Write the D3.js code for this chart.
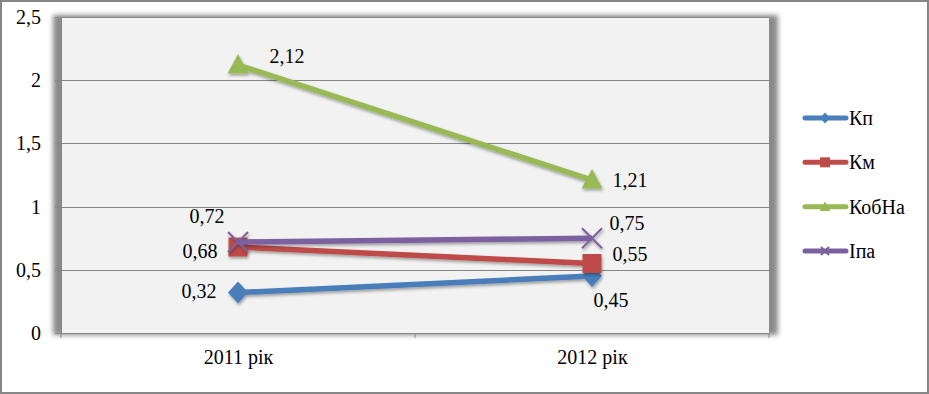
<!DOCTYPE html>
<html>
<head>
<meta charset="utf-8">
<script src="https://d3js.org/d3.v7.min.js"></script>
<style>
  body { margin: 0; background: #fff; }
</style>
</head>
<body>
<svg width="929" height="394"></svg>
<script>
var categories = ["2011 рік", "2012 рік"];
var seriesNames = ["Кп", "Км", "КобНа", "Іпа"];
var kpValues = [0.32, 0.45];
var kmValues = [0.68, 0.55];
var kobnaValues = [2.12, 1.21];
var ipaValues = [0.72, 0.75];
var yTicks = [0, 0.5, 1, 1.5, 2, 2.5];

// label placement (offsets from each point), layout only
var labelOffsets = [
  [[-39, -2], [19, 24]],
  [[-38, 4], [38, -9]],
  [[49, -9], [38, 0]],
  [[-31, -26], [35, -15]]
];
var colors = ["#4A7EBB", "#BE4B48", "#98B954", "#7D60A0"];
var markers = ["diamond", "square", "triangle", "x"];
var FONT = "'Liberation Serif', 'Times New Roman', serif";

var series = seriesNames.map(function(name, i) {
  return { name: name, values: [kpValues, kmValues, kobnaValues, ipaValues][i],
           color: colors[i], marker: markers[i], offs: labelOffsets[i] };
});

var svg = d3.select("svg");
var plotLeft = 61, plotRight = 769, plotTop = 17, plotBottom = 333;

var x = d3.scalePoint().domain(categories).range([plotLeft, plotRight]).padding(0.5);
var y = d3.scaleLinear().domain([0, 2.5]).range([plotBottom, plotTop]);
var fmt = d3.formatLocale({ decimal: ",", thousands: " ", grouping: [3], currency: ["", ""] }).format("");

var defs = svg.append("defs");
defs.append("filter").attr("id", "blur").attr("x", "-10%").attr("y", "-10%").attr("width", "120%").attr("height", "120%")
  .append("feGaussianBlur").attr("stdDeviation", 2.5);
defs.append("filter").attr("id", "shadow").attr("x", "-20%").attr("y", "-20%").attr("width", "140%").attr("height", "160%")
  .append("feDropShadow").attr("dx", 1).attr("dy", 2).attr("stdDeviation", 1.5)
  .attr("flood-color", "#000").attr("flood-opacity", 0.35);

// outer border
svg.append("rect").attr("x", 1).attr("y", 1).attr("width", 927).attr("height", 392)
  .attr("fill", "#fff").attr("stroke", "#868686").attr("stroke-width", 2);

// plot area with shadow
svg.append("rect").attr("x", plotLeft - 8).attr("y", plotTop - 2).attr("width", plotRight - plotLeft + 17).attr("height", plotBottom - plotTop + 4)
  .attr("fill", "#8a8a8a").attr("filter", "url(#blur)");
svg.append("rect").attr("x", plotLeft).attr("y", plotTop).attr("width", plotRight - plotLeft).attr("height", plotBottom - plotTop)
  .attr("fill", "#F2F2F2");

// gridlines
svg.append("g").selectAll("line").data(yTicks.filter(function(d) { return d > 0; })).enter().append("line")
  .attr("x1", plotLeft).attr("x2", plotRight).attr("y1", function(d) { return Math.round(y(d)) + 0.5; })
  .attr("y2", function(d) { return Math.round(y(d)) + 0.5; })
  .attr("stroke", "#868686").attr("stroke-width", 1);

// y axis
var yAxis = svg.append("g").attr("transform", "translate(" + plotLeft + ",0)")
  .call(d3.axisLeft(y).tickValues(yTicks).tickFormat(fmt).tickSize(6).tickPadding(14));
yAxis.select(".domain").attr("stroke", "#868686");
yAxis.selectAll(".tick line").attr("stroke", "#868686");
yAxis.selectAll("text").style("font-size", "20px").style("font-family", FONT).attr("fill", "#000");

// x axis
var xAxis = svg.append("g").attr("transform", "translate(0," + plotBottom + ")")
  .call(d3.axisBottom(x).tickSize(0).tickPadding(17));
xAxis.select(".domain").attr("stroke", "#868686");
xAxis.selectAll("text").style("font-size", "20px").style("font-family", FONT).attr("fill", "#000");
svg.append("g").selectAll("line").data([plotLeft, (plotLeft + plotRight) / 2, plotRight]).enter().append("line")
  .attr("x1", function(d) { return d; }).attr("x2", function(d) { return d; })
  .attr("y1", plotBottom).attr("y2", plotBottom + 5).attr("stroke", "#868686");

function markerPath(type, s) {
  if (type === "diamond") return "M0," + (-1.1 * s) + "L" + s + ",0L0," + (1.1 * s) + "L" + (-s) + ",0Z";
  if (type === "square") return "M" + (-s) + "," + (-s) + "H" + s + "V" + s + "H" + (-s) + "Z";
  if (type === "triangle") return "M0," + (-1.1 * s) + "L" + (1.05 * s) + "," + (0.85 * s) + "H" + (-1.05 * s) + "Z";
  return "M" + (-s) + "," + (-s) + "L" + s + "," + s + "M" + s + "," + (-s) + "L" + (-s) + "," + s;
}

function drawMarker(g, d, s) {
  var p = g.append("path").attr("d", markerPath(d.marker, s));
  if (d.marker === "x") p.attr("fill", "none").attr("stroke", d.color).attr("stroke-width", 2);
  else p.attr("fill", d.color);
}

var line = d3.line().x(function(d, i) { return x(categories[i]); }).y(function(d) { return y(d); });

series.forEach(function(s) {
  var g = svg.append("g").attr("filter", "url(#shadow)");
  g.append("path").datum(s.values).attr("d", line)
    .attr("fill", "none").attr("stroke", s.color).attr("stroke-width", 5.5);
  s.values.forEach(function(v, i) {
    var m = g.append("g").attr("transform", "translate(" + x(categories[i]) + "," + y(v) + ")");
    drawMarker(m, s, s.marker === "square" ? 9.5 : 10);
  });
});

// data labels
series.forEach(function(s) {
  svg.append("g").selectAll("text").data(s.values).enter().append("text")
    .attr("x", function(d, i) { return x(categories[i]) + s.offs[i][0]; })
    .attr("y", function(d, i) { return y(d) + s.offs[i][1]; })
    .attr("dy", "0.35em").attr("text-anchor", "middle")
    .style("font-size", "20px").style("font-family", FONT)
    .text(function(d) { return fmt(d); });
});

// legend
var legend = svg.append("g").attr("transform", "translate(803,0)");
var legendY = d3.scalePoint().domain(seriesNames).range([118, 251]);
series.forEach(function(s) {
  var g = legend.append("g").attr("transform", "translate(0," + legendY(s.name) + ")");
  g.append("line").attr("x1", 2).attr("x2", 43).attr("stroke", s.color).attr("stroke-width", 5).attr("stroke-linecap", "round");
  var m = g.append("g").attr("transform", "translate(22,0)");
  drawMarker(m, s, s.marker === "x" ? 4 : 5);
  g.append("text").attr("x", 46).attr("dy", "0.35em")
    .style("font-size", "20px").style("font-family", FONT).text(s.name);
});
</script>
</body>
</html>
